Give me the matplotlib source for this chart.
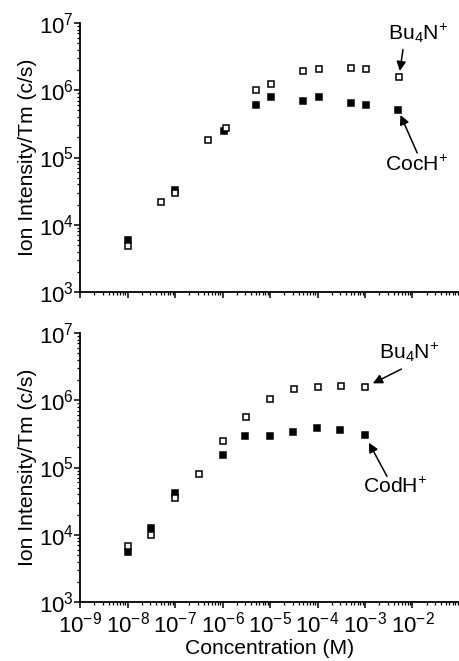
import numpy as np
import matplotlib
matplotlib.use("Agg")
import matplotlib.pyplot as plt
from matplotlib.ticker import LogLocator, NullFormatter

plt.rcParams["font.family"] = ["Liberation Sans", "DejaVu Sans"]
plt.rcParams["mathtext.fontset"] = "custom"
plt.rcParams["mathtext.rm"] = "Liberation Sans"
plt.rcParams["mathtext.it"] = "Liberation Sans"
plt.rcParams["mathtext.default"] = "regular"

# Cocaine run (top)
conc_bu_coc = [1e-8, 5e-8, 1e-7, 5e-7, 1.2e-6, 5e-6, 1.05e-5, 5e-5, 1.1e-4, 5e-4, 1.05e-3, 5.2e-3]
bu_coc = [4.9e3, 2.2e4, 3.0e4, 1.8e5, 2.75e5, 1.0e6, 1.25e6, 1.93e6, 2.07e6, 2.15e6, 2.1e6, 1.6e6]
conc_coc = [1e-8, 1e-7, 1.08e-6, 5e-6, 1.03e-5, 5e-5, 1.1e-4, 5e-4, 1.05e-3, 5e-3]
coc = [5.9e3, 3.3e4, 2.45e5, 6.1e5, 7.9e5, 6.9e5, 7.9e5, 6.5e5, 6.1e5, 5.1e5]

# Codeine run (bottom)
conc_bu_cod = [1.02e-8, 3.1e-8, 1.02e-7, 3.2e-7, 1.02e-6, 3.1e-6, 1.02e-5, 3.2e-5, 1.02e-4, 3.1e-4, 1.02e-3]
bu_cod = [6.9e3, 1.0e4, 3.5e4, 8.0e4, 2.45e5, 5.7e5, 1.03e6, 1.48e6, 1.58e6, 1.62e6, 1.57e6]
conc_cod = [1e-8, 3.2e-8, 9.8e-8, 1.03e-6, 3e-6, 1e-5, 3e-5, 9.8e-5, 3e-4, 1e-3]
cod = [5.5e3, 1.25e4, 4.2e4, 1.55e5, 2.95e5, 2.95e5, 3.4e5, 3.85e5, 3.65e5, 3.0e5]

decades_x = [1e-9, 1e-8, 1e-7, 1e-6, 1e-5, 1e-4, 1e-3, 1e-2]
decades_y = [1e3, 1e4, 1e5, 1e6, 1e7]

fig = plt.figure(figsize=(4.6, 6.61), dpi=100)
ax1 = fig.add_axes([80 / 460, 369 / 661, 380 / 460, 269 / 661])
ax2 = fig.add_axes([80 / 460, 59 / 661, 380 / 460, 269 / 661])


def power_label(v):
    return r"$10^{%d}$" % int(round(np.log10(v)))


def style_axes(ax, show_xlabels):
    ax.set_xscale("log")
    ax.set_yscale("log")
    ax.set_xlim(1e-9, 1e-1)
    ax.set_ylim(1e3, 1e7)
    ax.spines["top"].set_visible(False)
    ax.spines["right"].set_visible(False)
    for s in ("left", "bottom"):
        ax.spines[s].set_linewidth(1.3)
    ax.set_xticks(decades_x)
    ax.set_yticks(decades_y)
    ax.set_yticklabels([power_label(v) for v in decades_y])
    if show_xlabels:
        ax.set_xticklabels([power_label(v) for v in decades_x])
    else:
        ax.set_xticklabels([])
    ax.xaxis.set_minor_locator(LogLocator(base=10, subs=np.arange(2, 10), numticks=20))
    ax.yaxis.set_minor_locator(LogLocator(base=10, subs=np.arange(2, 10), numticks=20))
    ax.xaxis.set_minor_formatter(NullFormatter())
    ax.yaxis.set_minor_formatter(NullFormatter())
    ax.tick_params(which="major", direction="out", length=4, width=1.1, labelsize=16)
    ax.tick_params(axis="y", which="major", pad=0.5)
    ax.tick_params(axis="x", which="major", pad=3)
    ax.tick_params(which="minor", direction="out", length=2.5, width=0.9)
    ax.set_ylabel("Ion Intensity/Tm (c/s)", fontsize=15.2, labelpad=1)


mk = dict(linestyle="none", marker="s", markersize=4.5, markeredgewidth=1.1,
          markeredgecolor="black", clip_on=False)

style_axes(ax1, False)
ax1.plot(conc_coc, coc, markerfacecolor="black", **mk)
ax1.plot(conc_bu_coc, bu_coc, markerfacecolor="white", **mk)

style_axes(ax2, True)
ax2.plot(conc_cod, cod, markerfacecolor="black", **mk)
ax2.plot(conc_bu_cod, bu_cod, markerfacecolor="white", **mk)
ax2.set_xlabel("Concentration (M)", fontsize=15.2, labelpad=1)

arrow = dict(arrowstyle="-|>", color="black", lw=1.1, mutation_scale=14, shrinkA=0)
lbl = dict(fontsize=15.2, ha="center", va="center", annotation_clip=False)

# offsets in points (1 px = 0.72 pt at 100 dpi)
p = 0.72
ax1.annotate("", xy=(conc_bu_coc[-1], bu_coc[-1]), xytext=(4 * p, 27 * p),
             textcoords="offset points", arrowprops=dict(arrow, shrinkB=4))
ax1.annotate(r"$Bu_4N^{+}$", xy=(conc_bu_coc[-1], bu_coc[-1]), xytext=(19 * p, 43 * p),
             textcoords="offset points", **lbl)
ax1.annotate("", xy=(conc_coc[-1], coc[-1]), xytext=(19 * p, -43 * p),
             textcoords="offset points", arrowprops=dict(arrow, shrinkB=4))
ax1.annotate(r"$CocH^{+}$", xy=(conc_coc[-1], coc[-1]), xytext=(18 * p, -55 * p),
             textcoords="offset points", **lbl)

ax2.annotate("", xy=(conc_bu_cod[-1], bu_cod[-1]), xytext=(36 * p, 18 * p),
             textcoords="offset points", arrowprops=dict(arrow, shrinkB=6))
ax2.annotate(r"$Bu_4N^{+}$", xy=(conc_bu_cod[-1], bu_cod[-1]), xytext=(44 * p, 35 * p),
             textcoords="offset points", **lbl)
ax2.annotate("", xy=(conc_cod[-1], cod[-1]), xytext=(22 * p, -41 * p),
             textcoords="offset points", arrowprops=dict(arrow, shrinkB=6))
ax2.annotate(r"$CodH^{+}$", xy=(conc_cod[-1], cod[-1]), xytext=(30 * p, -52 * p),
             textcoords="offset points", **lbl)

fig.savefig("out.png", dpi=100)
